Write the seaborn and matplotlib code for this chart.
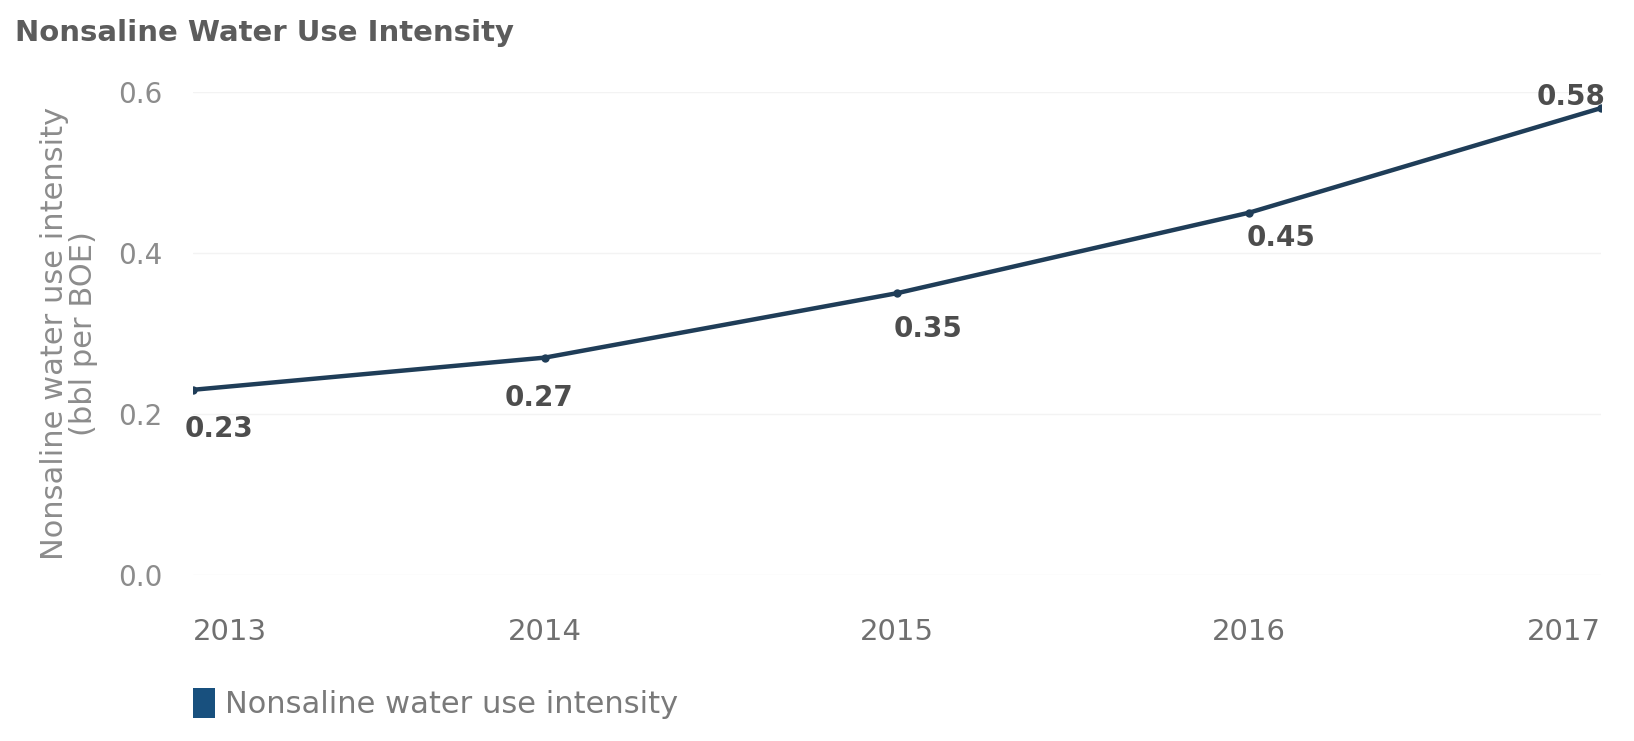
import matplotlib
matplotlib.use("Agg")
import matplotlib.pyplot as plt
import seaborn as sns
import pandas as pd
from matplotlib.patches import Patch

# Nonsaline water use intensity by year
years = [2013, 2014, 2015, 2016, 2017]
intensity = [0.23, 0.27, 0.35, 0.45, 0.58]
value_labels = ["0.23", "0.27", "0.35", "0.45", "0.58"]
y_ticks = [0.0, 0.2, 0.4, 0.6]
y_tick_labels = ["0.0", "0.2", "0.4", "0.6"]

df = pd.DataFrame({"year": years, "intensity": intensity})

sns.set_theme(style="white")
plt.rcParams["font.family"] = ["DejaVu Sans"]

fig = plt.figure(figsize=(16.34, 7.41), dpi=100)
ax = fig.add_axes([0.118, 0.224, 0.862, 0.652])

line_color = "#1f3d58"
sns.lineplot(data=df, x="year", y="intensity", ax=ax, color=line_color,
             linewidth=3.2, marker="o", markersize=6, markeredgewidth=0)

ax.set_xlim(years[0], years[-1])
ax.set_ylim(0, 0.6)
ax.set_yticks(y_ticks)
ax.set_yticklabels(y_tick_labels, color="#8c8c8c", fontsize=20)
ax.set_xticks(years)
xt = ax.set_xticklabels([str(y) for y in years], color="#707070", fontsize=21)
xt[0].set_ha("left")
xt[-1].set_ha("right")
ax.tick_params(axis="y", pad=22, length=0)
ax.tick_params(axis="x", pad=31, length=0)
ax.grid(axis="y", color="#f3f3f3", linewidth=1)
for s in ax.spines.values():
    s.set_visible(False)

ax.set_xlabel("")
ax.set_ylabel("Nonsaline water use intensity\n(bbl per BOE)", color="#8c8c8c",
              fontsize=22, labelpad=14, linespacing=1.0)

# Value labels next to each point
offsets = [(19, -28), (-4, -29), (22, -26), (23, -18), (-22, 8)]
for x, y, t, (dx, dy) in zip(years, intensity, value_labels, offsets):
    ax.annotate(t, (x, y), xytext=(dx, dy), textcoords="offset points",
                ha="center", va="center", fontsize=20, fontweight="bold",
                color="#4d4d4d")

fig.text(0.009, 0.955, "Nonsaline Water Use Intensity", fontsize=21,
         fontweight="bold", color="#5c5c5c", ha="left", va="center")

handle = Patch(facecolor="#18507e", edgecolor="none")
fig.legend([handle], ["Nonsaline water use intensity"], loc="center left",
           bbox_to_anchor=(0.101, 0.05), frameon=False, fontsize=22,
           handlelength=0.75, handleheight=1.1, handletextpad=0.3,
           labelcolor="#7a7a7a")

fig.savefig("out.png", dpi=100, facecolor="white")
